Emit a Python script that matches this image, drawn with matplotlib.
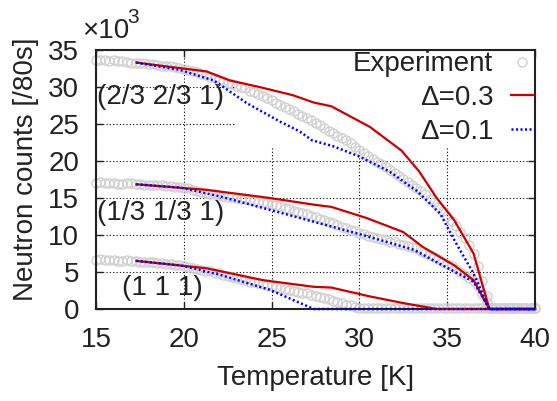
import numpy as np
import matplotlib
matplotlib.use("Agg")
from matplotlib import pyplot as plt
from matplotlib.patches import Rectangle

plt.rcParams["font.family"] = ["Liberation Sans", "DejaVu Sans"]

# DATA (counts in units of 10^3 per 80 s)
# experiment, one reading every 0.25 K from 15 K to 40 K
temp_exp = np.arange(15.0, 40.001, 0.25)
exp_231 = [33.6, 33.7, 33.6, 33.5, 33.6, 33.5, 33.5, 33.4, 33.3, 33.3,
           33.2, 33.2, 33.1, 33.1, 33.0, 32.9, 32.9, 32.8, 32.7, 32.6,
           32.5, 32.3, 32.2, 32.0, 31.8, 31.6, 31.4, 31.2, 31.0, 30.8,
           30.6, 30.4, 30.2, 30.0, 29.8, 29.5, 29.3, 29.0, 28.8, 28.5,
           28.2, 27.9, 27.6, 27.3, 27.0, 26.7, 26.4, 26.1, 25.8, 25.5,
           25.2, 24.8, 24.5, 24.1, 23.8, 23.4, 23.1, 22.8, 22.4, 21.9,
           21.5, 21.1, 20.7, 20.3, 19.9, 19.6, 19.2, 18.8, 18.4, 18.0,
           17.6, 17.2, 16.8, 16.4, 16.0, 15.5, 14.9, 14.4, 13.8, 13.2,
           12.6, 11.9, 11.2, 10.4, 9.6, 8.6, 7.4, 5.8, 3.8, 1.8,
           0.2, 0.1, 0.1, 0.1, 0.1, 0.1, 0.1, 0.1, 0.1, 0.1,
           0.1]
exp_131 = [17.0, 17.1, 17.0, 17.0, 17.0, 16.9, 16.9, 17.0, 17.0, 16.9,
           16.9, 16.8, 16.8, 16.8, 16.7, 16.7, 16.6, 16.6, 16.5, 16.5,
           16.4, 16.3, 16.1, 16.0, 15.8, 15.7, 15.6, 15.5, 15.4, 15.3,
           15.2, 15.1, 15.0, 14.9, 14.8, 14.7, 14.6, 14.5, 14.4, 14.3,
           14.2, 14.0, 13.9, 13.7, 13.5, 13.3, 13.1, 13.0, 12.8, 12.6,
           12.4, 12.2, 12.0, 11.8, 11.6, 11.3, 11.1, 10.9, 10.7, 10.5,
           10.3, 10.1, 9.9, 9.7, 9.6, 9.4, 9.3, 9.1, 9.0, 8.8,
           8.7, 8.5, 8.4, 8.2, 7.9, 7.6, 7.3, 7.0, 6.7, 6.4,
           6.1, 5.8, 5.4, 5.0, 4.6, 4.2, 3.8, 3.1, 2.0, 0.9,
           0.1, 0.1, 0.1, 0.1, 0.1, 0.1, 0.1, 0.1, 0.1, 0.1,
           0.1]
exp_111 = [6.6, 6.7, 6.6, 6.6, 6.6, 6.5, 6.5, 6.6, 6.5, 6.5,
           6.4, 6.4, 6.3, 6.3, 6.2, 6.2, 6.1, 6.1, 6.0, 5.9,
           5.8, 5.7, 5.6, 5.4, 5.3, 5.2, 5.1, 4.9, 4.8, 4.6,
           4.5, 4.3, 4.2, 4.0, 3.9, 3.7, 3.6, 3.5, 3.4, 3.2,
           3.1, 3.0, 2.9, 2.7, 2.6, 2.4, 2.3, 2.2, 2.1, 1.9,
           1.8, 1.6, 1.5, 1.3, 1.1, 1.0, 0.8, 0.6, 0.5, 0.3,
           0.2, 0.1, 0.1, 0.1, 0.1, 0.1, 0.1, 0.1, 0.1, 0.1,
           0.1, 0.1, 0.1, 0.1, 0.1, 0.1, 0.1, 0.1, 0.1, 0.1,
           0.1, 0.1, 0.1, 0.1, 0.1, 0.1, 0.1, 0.1, 0.1, 0.1,
           0.1, 0.1, 0.1, 0.1, 0.1, 0.1, 0.1, 0.1, 0.1, 0.1,
           0.1]

# calculations, Delta = 0.3
t_red_231 = [17.3, 21.3, 22.6, 24.3, 26.2, 27.4, 28.4, 30.6, 32.4, 33.4, 34.4, 35.4, 36.5, 37.4, 40.0]
v_red_231 = [33.3, 32.1, 30.9, 30.0, 28.9, 27.9, 27.4, 24.6, 21.4, 18.6, 15.0, 12.0, 7.5, 0.0, 0.0]
t_red_131 = [17.3, 21.3, 24.9, 27.4, 28.4, 30.4, 32.5, 33.6, 35.4, 36.5, 37.4, 40.0]
v_red_131 = [16.85, 16.1, 15.0, 14.1, 13.8, 12.3, 10.4, 8.4, 5.9, 3.9, 0.0, 0.0]
t_red_111 = [17.3, 21.3, 24.5, 27.4, 28.4, 30.6, 32.5, 34.4, 40.0]
v_red_111 = [6.5, 5.5, 3.9, 3.0, 2.9, 1.7, 0.8, 0.0, 0.0]

# calculations, Delta = 0.1
t_blue_231 = [17.3, 19.8, 21.7, 23.6, 25.5, 26.6, 27.3, 28.5, 30.0, 31.7, 33.3, 34.6, 35.5, 36.5, 37.4, 40.0]
v_blue_231 = [33.3, 32.3, 30.9, 27.8, 25.3, 24.0, 22.8, 22.0, 20.6, 18.6, 15.9, 12.9, 8.9, 4.8, 0.0, 0.0]
t_blue_131 = [17.3, 19.8, 22.1, 24.9, 27.4, 30.2, 33.1, 34.9, 36.5, 37.4, 40.0]
v_blue_131 = [16.85, 16.4, 15.2, 13.4, 11.8, 10.0, 8.0, 5.7, 3.7, 0.0, 0.0]
t_blue_111 = [17.3, 19.8, 22.1, 24.9, 27.4, 40.0]
v_blue_111 = [6.5, 5.9, 4.6, 2.6, 0.0, 0.0]

peak_labels = ["(2/3 2/3 1)", "(1/3 1/3 1)", "(1 1 1)"]

RED = "#cc0000"
BLUE = "#0000ff"
GREY = "#d0d0d0"
INK = "#222222"
FS = 20


def main():
    fig = plt.figure(figsize=(5.57, 4.01), dpi=100)
    ax = fig.add_axes([0.1724, 0.2294, 0.7881, 0.6459])

    exp_kw = dict(ls="none", marker="o", ms=6.5, mfc="none", mec=GREY,
                  mew=1.0, clip_on=False, zorder=2)
    red_kw = dict(color=RED, lw=1.6, clip_on=False, zorder=3)
    blue_kw = dict(color=BLUE, lw=1.8, ls=(0, (0.8, 1.0)), clip_on=False,
                   zorder=4)

    ax.plot(temp_exp, exp_231, label="Experiment", **exp_kw)
    ax.plot(temp_exp, exp_131, **exp_kw)
    ax.plot(temp_exp, exp_111, **exp_kw)

    ax.plot(t_red_231, v_red_231, label="\u0394=0.3", **red_kw)
    ax.plot(t_red_131, v_red_131, **red_kw)
    ax.plot(t_red_111, v_red_111, **red_kw)

    ax.plot(t_blue_231, v_blue_231, label="\u0394=0.1", **blue_kw)
    ax.plot(t_blue_131, v_blue_131, **blue_kw)
    ax.plot(t_blue_111, v_blue_111, **blue_kw)

    ax.set_xlim(15, 40)
    ax.set_ylim(0, 35)
    ax.set_xticks([15, 20, 25, 30, 35, 40])
    ax.set_yticks([0, 5, 10, 15, 20, 25, 30, 35])

    ax.set_axisbelow(True)
    ax.grid(True, color="black", lw=0.8, ls=(0, (1, 2)))
    # opaque key area like gnuplot
    ax.add_patch(Rectangle((0.317, 0.622), 0.683, 0.378, transform=ax.transAxes,
                           facecolor="white", edgecolor="none", zorder=1))

    ax.tick_params(direction="in", length=5, width=1, top=True, right=True,
                   labelsize=FS, colors=INK)
    ax.tick_params(axis="x", pad=13)
    ax.tick_params(axis="y", pad=12)
    for s in ax.spines.values():
        s.set_linewidth(1.5)
        s.set_color(INK)

    ax.set_xlabel("Temperature [K]", fontsize=FS, color=INK)
    ax.set_ylabel("Neutron counts [/80s]", fontsize=FS, color=INK)
    ax.xaxis.set_label_coords(0.5, -0.215)
    ax.yaxis.set_label_coords(-0.13, 0.54)

    # multiplier above the y axis
    ax.text(-0.032, 1.046, "\u00d710", transform=ax.transAxes, fontsize=FS,
            color=INK, ha="left", va="baseline")
    ax.text(0.071, 1.104, "3", transform=ax.transAxes, fontsize=15,
            color=INK, ha="left", va="baseline")

    ax.text(15.05, 28.6, peak_labels[0], fontsize=FS, va="center",
            ha="left", color=INK, zorder=2)
    ax.text(15.05, 13.0, peak_labels[1], fontsize=FS, va="center",
            ha="left", color=INK, zorder=2)
    ax.text(18.76, 2.8, peak_labels[2], fontsize=FS, va="center",
            ha="center", color=INK, zorder=2)

    leg = ax.legend(loc="upper right", bbox_to_anchor=(1.0, 1.0),
                    markerfirst=False, frameon=False, fontsize=FS,
                    borderaxespad=0, borderpad=0.05, handlelength=0.8,
                    handletextpad=0.65, labelspacing=0.28, numpoints=1)
    for t in leg.get_texts():
        t.set_color(INK)

    fig.savefig("out.png", dpi=100)


if __name__ == "__main__":
    main()
